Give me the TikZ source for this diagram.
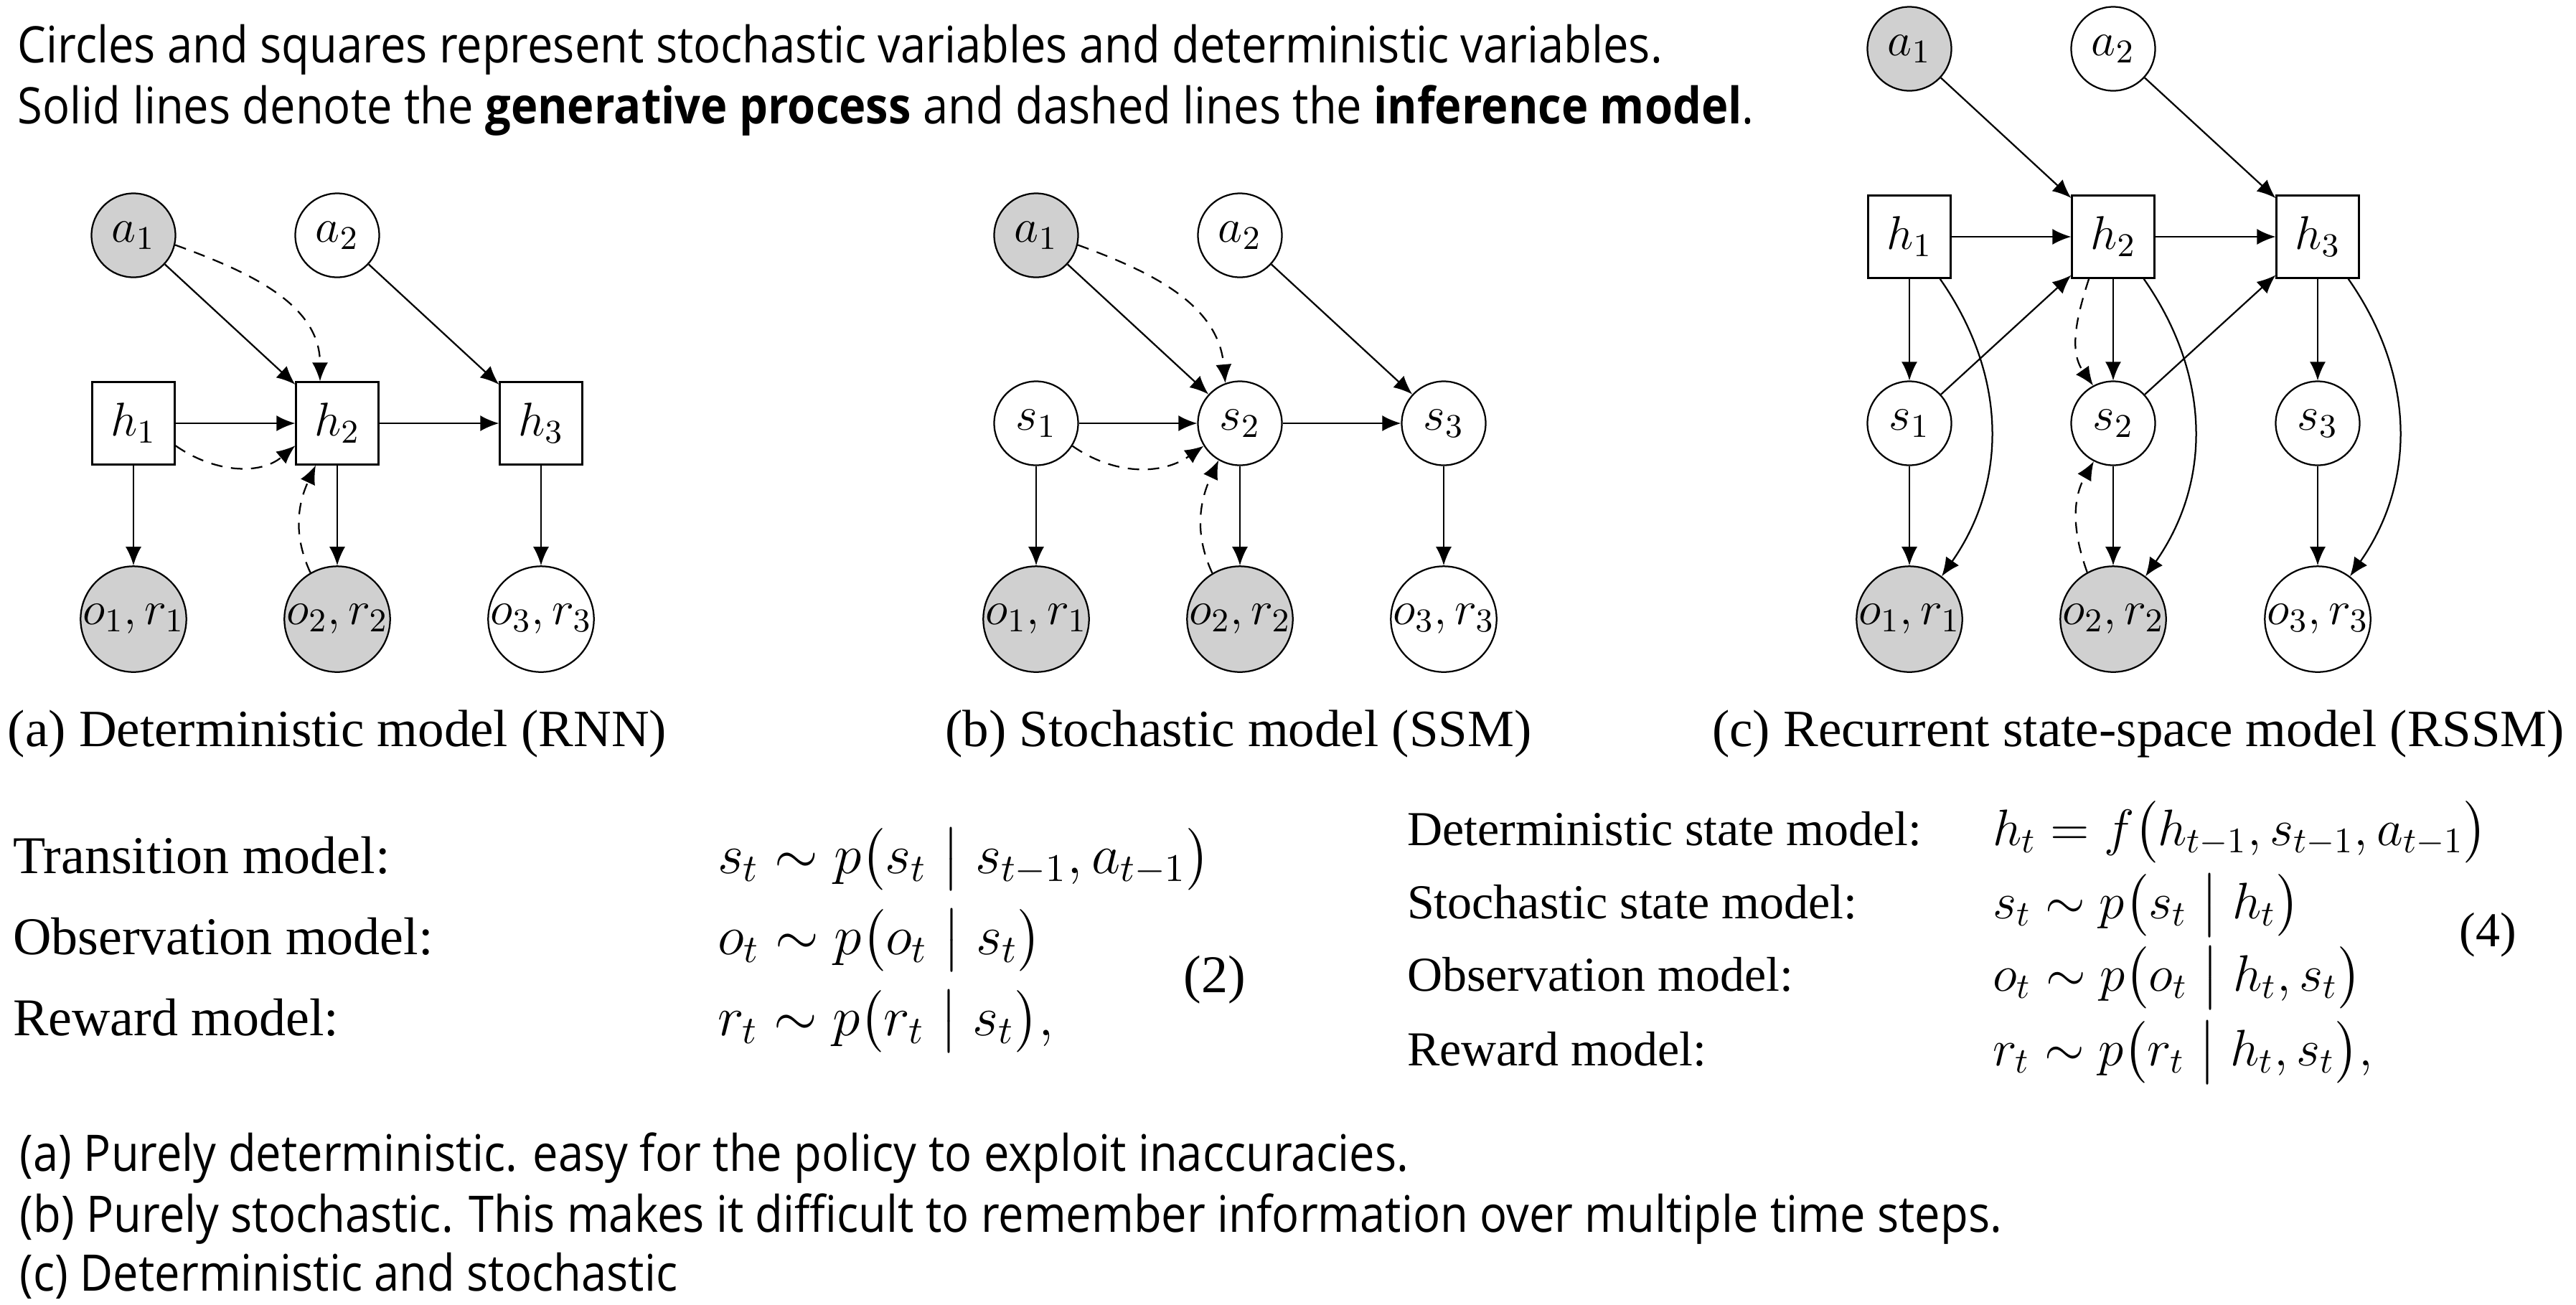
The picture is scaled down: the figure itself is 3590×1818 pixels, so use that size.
\RequirePackage{fix-cm}
\documentclass[tikz,border=0pt]{standalone}
\usepackage{amsmath}
\usepackage[no-math]{fontspec}
\setmainfont{Liberation Serif}
\newfontfamily\annotfont{Open Sans}[FakeStretch=0.9]
\usetikzlibrary{arrows.meta}
\definecolor{obsgray}{RGB}{208,208,208}
\tikzset{
  nodebase/.style={draw, line width=0.45pt, inner sep=0pt, fill=white, font=\fontsize{13.2}{15}\selectfont},
  rv/.style={nodebase, circle, minimum size=23.4pt},
  bigrv/.style={nodebase, circle, minimum size=27.6pt},
  det/.style={nodebase, rectangle, minimum size=23pt},
  shaded/.style={fill=obsgray},
  arr/.style={line width=0.45pt, -{Latex[length=5.2pt,width=4.4pt]}},
  inf/.style={arr, dash pattern=on 3.2pt off 2.4pt},
  annot/.style={anchor=base west, inner sep=0pt, font=\annotfont\fontsize{14.05}{16}\selectfont},
  capt/.style={anchor=base, inner sep=0pt, font=\fontsize{14.6}{17}\selectfont},
  eqL/.style={anchor=base west, inner sep=0pt, font=\fontsize{14.8}{17}\selectfont},
  eqR/.style={anchor=base west, inner sep=0pt, font=\fontsize{13.6}{16}\selectfont},
  mathL/.style={anchor=base west, inner sep=0pt, font=\fontsize{15.6}{17}\selectfont},
  mathR/.style={anchor=base west, inner sep=0pt, font=\fontsize{14.3}{16}\selectfont},
  eqnum/.style={anchor=center, inner sep=0pt},
}
\begin{document}
\begin{tikzpicture}[x=0.2pt,y=0.2pt]
\fill[white] (0,0) rectangle (3590,-1818);
\useasboundingbox (0,0) rectangle (3590,-1818);

% top annotation
\node[annot] (top1) at (24,-87) {Circles and squares represent stochastic variables and deterministic variables.};
\node[annot] (top2) at (24,-172) {Solid lines denote the \textbf{generative process} and dashed lines the \textbf{inference model}.};

% ---------- panel (a)
\node[rv,shaded] (Aa1) at (186,-328) {$a_1$};
\node[rv] (Aa2) at (470,-328) {$a_2$};
\node[det] (Ah1) at (186,-590) {$h_1$};
\node[det] (Ah2) at (470,-590) {$h_2$};
\node[det] (Ah3) at (754,-590) {$h_3$};
\node[bigrv,shaded] (Ao1) at (186,-863) {$o_1,r_1$};
\node[bigrv,shaded] (Ao2) at (470,-863) {$o_2,r_2$};
\node[bigrv] (Ao3) at (754,-863) {$o_3,r_3$};
\draw[arr] (Aa1) -- (Ah2);
\draw[arr] (Aa2) -- (Ah3);
\draw[arr] (Ah1) -- (Ah2);
\draw[arr] (Ah2) -- (Ah3);
\draw[arr] (Ah1) -- (Ao1);
\draw[arr] (Ah2) -- (Ao2);
\draw[arr] (Ah3) -- (Ao3);
\draw[inf] (Aa1.-13) to[out=-20,in=90] ([xshift=-4.8pt]Ah2.north);
\draw[inf] (Ah1.-28) to[out=-35,in=-140] (Ah2.208);
\draw[inf] (Ao2.120) to[out=115,in=-115] ([xshift=-6pt]Ah2.south);
\node[capt] (capA) at (470,-1040) {(a) Deterministic model (RNN)};

% ---------- panel (b)
\node[rv,shaded] (Ba1) at (1444,-328) {$a_1$};
\node[rv] (Ba2) at (1728,-328) {$a_2$};
\node[rv] (Bs1) at (1444,-590) {$s_1$};
\node[rv] (Bs2) at (1728,-590) {$s_2$};
\node[rv] (Bs3) at (2012,-590) {$s_3$};
\node[bigrv,shaded] (Bo1) at (1444,-863) {$o_1,r_1$};
\node[bigrv,shaded] (Bo2) at (1728,-863) {$o_2,r_2$};
\node[bigrv] (Bo3) at (2012,-863) {$o_3,r_3$};
\draw[arr] (Ba1) -- (Bs2);
\draw[arr] (Ba2) -- (Bs3);
\draw[arr] (Bs1) -- (Bs2);
\draw[arr] (Bs2) -- (Bs3);
\draw[arr] (Bs1) -- (Bo1);
\draw[arr] (Bs2) -- (Bo2);
\draw[arr] (Bs3) -- (Bo3);
\draw[inf] (Ba1.-13) to[out=-20,in=95] (Bs2.110);
\draw[inf] (Bs1.-32) to[out=-35,in=-145] (Bs2.212);
\draw[inf] (Bo2.121) to[out=115,in=-115] (Bs2.240);
\node[capt] (capB) at (1726,-1040) {(b) Stochastic model (SSM)};

% ---------- panel (c)
\node[rv,shaded] (Ca1) at (2661,-68) {$a_1$};
\node[rv] (Ca2) at (2945,-68) {$a_2$};
\node[det] (Ch1) at (2661,-330) {$h_1$};
\node[det] (Ch2) at (2945,-330) {$h_2$};
\node[det] (Ch3) at (3230,-330) {$h_3$};
\node[rv] (Cs1) at (2661,-590) {$s_1$};
\node[rv] (Cs2) at (2945,-590) {$s_2$};
\node[rv] (Cs3) at (3230,-590) {$s_3$};
\node[bigrv,shaded] (Co1) at (2661,-863) {$o_1,r_1$};
\node[bigrv,shaded] (Co2) at (2945,-863) {$o_2,r_2$};
\node[bigrv] (Co3) at (3230,-863) {$o_3,r_3$};
\draw[arr] (Ca1) -- (Ch2);
\draw[arr] (Ca2) -- (Ch3);
\draw[arr] (Ch1) -- (Ch2);
\draw[arr] (Ch2) -- (Ch3);
\draw[arr] (Ch1) -- (Cs1);
\draw[arr] (Ch2) -- (Cs2);
\draw[arr] (Ch3) -- (Cs3);
\draw[arr] (Cs1) -- (Co1);
\draw[arr] (Cs2) -- (Co2);
\draw[arr] (Cs3) -- (Co3);
\draw[arr] (Cs1) -- (Ch2);
\draw[arr] (Cs2) -- (Ch3);
\draw[arr] (Ch1.-54) to[out=-55,in=55] (Co1.53);
\draw[arr] (Ch2.-54) to[out=-55,in=55] (Co2.53);
\draw[arr] (Ch3.-54) to[out=-55,in=55] (Co3.53);
\draw[inf] (Ch2.-120) to[out=-108,in=125] (Cs2.118);
\draw[inf] (Co2.119) to[out=110,in=-120] (Cs2.243);
\node[capt,anchor=base east] (capC) at (3575,-1040) {(c) Recurrent state-space model (RSSM)};

% ---------- equations (left)
\node[eqL] (tL1) at (17,-1217) {Transition model:};
\node[mathL] (mL1) at (999,-1217) {$s_t \sim p\bigl(s_t \bigm| s_{t-1}, a_{t-1}\bigr)$};
\node[eqL] (tL2) at (17,-1330) {Observation model:};
\node[mathL] (mL2) at (999,-1330) {$o_t \sim p\bigl(o_t \bigm| s_t\bigr)$};
\node[eqL] (tL3) at (17,-1443) {Reward model:};
\node[mathL] (mL3) at (999,-1443) {$r_t \sim p\bigl(r_t \bigm| s_t\bigr),$};
\node[eqnum,font=\fontsize{14.8}{17}\selectfont] (nL) at (1693,-1366) {(2)};

% ---------- equations (right)
\node[eqR] (tR1) at (1960,-1178) {Deterministic state model:};
\node[mathR] (mR1) at (2776,-1178) {$h_t = f\bigl(h_{t-1}, s_{t-1}, a_{t-1}\bigr)$};
\node[eqR] (tR2) at (1960,-1280) {Stochastic state model:};
\node[mathR] (mR2) at (2776,-1280) {$s_t \sim p\bigl(s_t \bigm| h_t\bigr)$};
\node[eqR] (tR3) at (1960,-1381) {Observation model:};
\node[mathR] (mR3) at (2776,-1381) {$o_t \sim p\bigl(o_t \bigm| h_t, s_t\bigr)$};
\node[eqR] (tR4) at (1960,-1485) {Reward model:};
\node[mathR] (mR4) at (2776,-1485) {$r_t \sim p\bigl(r_t \bigm| h_t, s_t\bigr),$};
\node[eqnum,font=\fontsize{13.6}{16}\selectfont] (nR) at (3467,-1303) {(4)};

% ---------- bottom notes
\node[annot] (bot1) at (27,-1632) {(a) Purely deterministic. easy for the policy to exploit inaccuracies.};
\node[annot] (bot2) at (27,-1717) {(b) Purely stochastic. This makes it difficult to remember information over multiple time steps.};
\node[annot] (bot3) at (27,-1799) {(c) Deterministic and stochastic};
\end{tikzpicture}
\end{document}
